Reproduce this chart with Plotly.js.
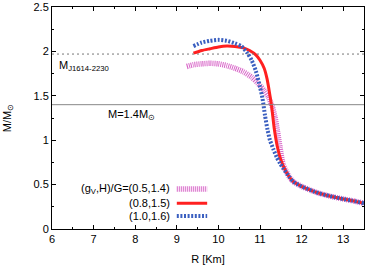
<!DOCTYPE html>
<html><head><meta charset="utf-8">
<script src="https://cdn.plot.ly/plotly-3.0.1.min.js"></script>
<style>html,body{margin:0;padding:0;background:#fff}#c{width:366px;height:265px}</style>
</head><body><div id="c"></div>
<script>
// Series: (gV,H)/G = (0.5,1.4)
const R_a = [9.24, 9.4, 9.6, 9.8, 10.0, 10.2, 10.4, 10.6, 10.8, 10.95, 11.1, 11.2, 11.3, 11.36, 11.42, 11.48, 11.56, 11.7, 11.8, 12.0, 12.2, 12.4, 12.6, 12.8, 13.0, 13.2, 13.5];
const M_a = [1.83, 1.85, 1.86, 1.866, 1.86, 1.84, 1.81, 1.77, 1.71, 1.64, 1.56, 1.49, 1.37, 1.26, 1.10, 0.92, 0.72, 0.59, 0.533, 0.48, 0.44, 0.405, 0.38, 0.357, 0.338, 0.32, 0.29];
// Series: (0.8,1.5)
const R_b = [9.4, 9.6, 9.8, 10.0, 10.2, 10.4, 10.6, 10.75, 10.9, 11.0, 11.1, 11.17, 11.23, 11.28, 11.34, 11.42, 11.5, 11.6, 11.7, 11.8, 12.0, 12.2, 12.4, 12.6, 12.8, 13.0, 13.2, 13.5];
const M_b = [1.98, 2.01, 2.03, 2.05, 2.06, 2.055, 2.04, 2.01, 1.96, 1.90, 1.81, 1.69, 1.53, 1.38, 1.14, 0.92, 0.78, 0.67, 0.59, 0.533, 0.48, 0.44, 0.405, 0.38, 0.357, 0.338, 0.32, 0.29];
// Series: (1.0,1.6)
const R_c = [9.4, 9.6, 9.8, 10.0, 10.2, 10.4, 10.55, 10.7, 10.8, 10.9, 11.0, 11.06, 11.12, 11.18, 11.24, 11.32, 11.4, 11.48, 11.56, 11.7, 11.8, 12.0, 12.2, 12.4, 12.6, 12.8, 13.0, 13.2, 13.5];
const M_c = [2.06, 2.10, 2.12, 2.13, 2.12, 2.09, 2.06, 1.98, 1.90, 1.78, 1.60, 1.47, 1.28, 1.12, 1.00, 0.90, 0.81, 0.74, 0.68, 0.59, 0.533, 0.48, 0.44, 0.405, 0.38, 0.357, 0.338, 0.32, 0.29];

const seriesNames = ["(g<sub>V</sub>,H)/G=(0.5,1.4)", "(0.8,1.5)", "(1.0,1.6)"];
const refMassJ = 1.97;   // PSR J1614-2230
const refMass14 = 1.4;
const xTicks = [6, 7, 8, 9, 10, 11, 12, 13];
const yTicks = [0, 0.5, 1, 1.5, 2, 2.5];

const styles = [
  {color: '#d866c8', width: 5.5, dash: '1px,1px'},
  {color: '#ff2020', width: 3, dash: 'solid'},
  {color: '#3a5fc0', width: 4, dash: '2px,1.6px'}
];
const data = [
  {x: R_a, y: M_a, mode: 'lines', line: {color: styles[0].color, width: styles[0].width, dash: styles[0].dash, shape: 'spline', smoothing: 0.6}},
  {x: R_b, y: M_b, mode: 'lines', line: {color: styles[1].color, width: styles[1].width, dash: styles[1].dash, shape: 'spline', smoothing: 0.6}},
  {x: R_c, y: M_c, mode: 'lines', line: {color: styles[2].color, width: styles[2].width, dash: styles[2].dash, shape: 'spline', smoothing: 0.6}}
];

// legend (gnuplot style: text right-aligned, samples to its right)
const legX0 = 9.0, legX1 = 9.73, legTextX = 8.88;
const legY = [0.45, 0.29, 0.145];
const shapes = [
  {type: 'line', xref: 'paper', x0: 0, x1: 1, yref: 'y', y0: refMass14, y1: refMass14, line: {color: '#888', width: 1}},
  {type: 'line', xref: 'paper', x0: 0, x1: 1, yref: 'y', y0: refMassJ, y1: refMassJ, line: {color: '#777', width: 1, dash: '2px,3px'}}
];
const annotations = [
  {x: 6.12, y: 1.84, xref: 'x', yref: 'y', text: 'M<sub>J1614-2230</sub>', showarrow: false, xanchor: 'left', yanchor: 'middle', font: {size: 11}},
  {x: 7.9, y: 1.28, xref: 'x', yref: 'y', text: 'M=1.4M<sub>⊙</sub>', showarrow: false, xanchor: 'center', yanchor: 'middle', font: {size: 11}}
];
seriesNames.forEach((n, i) => {
  shapes.push({type: 'line', xref: 'x', yref: 'y', x0: legX0, x1: legX1, y0: legY[i], y1: legY[i], line: {color: styles[i].color, width: styles[i].width, dash: styles[i].dash}});
  annotations.push({x: legTextX, y: legY[i], xref: 'x', yref: 'y', text: n, showarrow: false, xanchor: 'right', yanchor: 'middle', font: {size: 11}});
});

const axisCommon = {
  showgrid: false, zeroline: false, showline: true, mirror: 'ticks', linecolor: '#000', linewidth: 1,
  ticks: 'inside', ticklen: 4, tickcolor: '#000', tickfont: {size: 11, color: '#000'}
};
const layout = {
  width: 366, height: 265,
  margin: {l: 52, r: 2, t: 7, b: 36},
  font: {family: 'Liberation Sans, Arial, sans-serif', size: 11, color: '#000'},
  showlegend: false,
  paper_bgcolor: '#fff', plot_bgcolor: '#fff',
  xaxis: Object.assign({}, axisCommon, {range: [6, 13.5], tickvals: xTicks, title: {text: 'R [Km]', font: {size: 11}, standoff: 11},
    minor: {dtick: 0.5, ticks: 'inside', ticklen: 2, tickcolor: '#000'}}),
  yaxis: Object.assign({}, axisCommon, {range: [0, 2.5], tickvals: yTicks, ticktext: ['0', '0.5', '1', '1.5', '2', '2.5'], title: {text: 'M/M<sub>⊙</sub>', font: {size: 11}, standoff: 19},
    minor: {dtick: 0.25, ticks: 'inside', ticklen: 2, tickcolor: '#000'}}),
  shapes: shapes,
  annotations: annotations
};
Plotly.newPlot('c', data, layout, {staticPlot: true, displayModeBar: false});
</script></body></html>
